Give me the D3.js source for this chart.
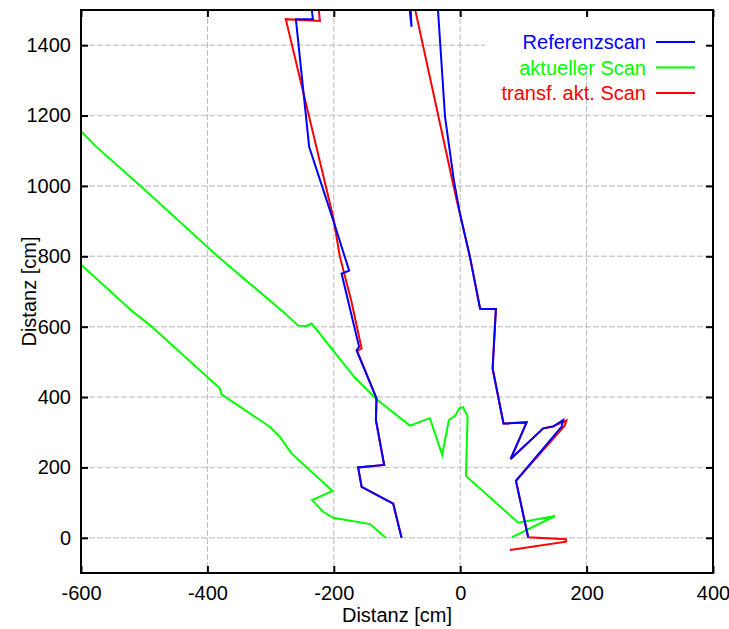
<!DOCTYPE html>
<html>
<head>
<meta charset="utf-8">
<script src="https://cdn.jsdelivr.net/npm/d3@7"></script>
<style>
  body { margin: 0; background: #fff; }
  svg { font-family: "Liberation Sans", Arial, sans-serif; }
</style>
</head>
<body>
<svg id="chart" width="729" height="629"></svg>
<script>
// Referenzscan (blue)
var refX = [107.6, 88.2, 160.5, 163, 147, 131.4, 79.8, 105.1, 68.5, 51.3, 56.5, 31.5, 15.3, -0.5, -10, -24, -35, -37,
  -83.5, -77, -80,
  -240, -234.5, -233, -260, -239, -201, -175.7, -187.7, -160, -164, -132.4, -133.4, -120.3, -161.5, -156, -106, -92.8];
var refY = [1, 162, 316, 335, 316, 311, 224, 328, 325, 481, 650, 651, 799, 922, 1016, 1196, 1496, 1560,
  1560, 1452, 1560,
  1560, 1496, 1474, 1474, 1111, 903, 759, 751, 543, 533, 396, 335, 207, 200, 145, 97, 0];

// aktueller Scan (green)
var curX = [81.4, 150, 91.8, 9, 11.7, 4.5, -1.6, -7.5, -18, -28.5, -48, -79.6, -132.4, -167.5, -235, -244, -256.4,
  -277.5, -383, -504, -575.6, -598, -640,
  -640, -598, -517.6, -491, -380.4, -377.7, -301.3, -285.3, -267, -202, -234.3, -216.9, -201, -142.5, -118];
var curY = [1.4, 62, 43, 176, 345, 371, 368, 348, 334, 236, 340, 319, 394, 457, 609, 602, 603,
  638, 799, 997, 1111, 1152, 1210,
  845, 773, 642, 604.5, 424.7, 408, 315.6, 287, 240, 133, 107, 74, 57, 39, 0];

// transf. akt. Scan (red)
var trX = [78.7, 167.3, 167.3, 107.6, 88.2, 165, 168, 147, 131.4, 79.8, 105.1, 68.5, 51.3, 56.5, 31.5, 15.3, -0.5, -5.7, -70.6, -74,
  -224, -223.5, -222, -276, -201, -190.4, -172, -156, -163, -132.4, -133.4, -120.3, -161.5, -156, -106, -92.8];
var trY = [-34.7, -11, -4, 1.4, 162, 318, 333, 317, 311, 224, 328, 325, 481, 650, 651, 799, 922, 960, 1496, 1560,
  1560, 1496, 1469, 1474, 912, 799, 671, 538, 531, 396, 335, 207, 200, 145, 97, 0];

var seriesNames = ["Referenzscan", "aktueller Scan", "transf. akt. Scan"];
var seriesColors = ["#0000ff", "#00ff00", "#ff0000"];
var xTicks = [-600, -400, -200, 0, 200, 400];
var yTicks = [0, 200, 400, 600, 800, 1000, 1200, 1400];

var margin = {top: 10, right: 16, bottom: 56, left: 81},
  width = 729 - margin.left - margin.right,
  height = 629 - margin.top - margin.bottom;

var x = d3.scaleLinear().domain([-600, 400]).range([0, width]);
var y = d3.scaleLinear().domain([-100, 1500]).range([height, 0]);
var plain = d => String(d);

var svg = d3.select("#chart");
var g = svg.append("g").attr("transform", "translate(" + margin.left + "," + margin.top + ")");

g.append("clipPath").attr("id", "clip")
  .append("rect").attr("width", width).attr("height", height);

// grid
g.append("g").selectAll("line").data(yTicks).enter().append("line")
  .attr("x1", 0).attr("x2", width)
  .attr("y1", d => y(d)).attr("y2", d => y(d))
  .attr("stroke", "#cfcfcf").attr("stroke-width", 1.6).attr("stroke-dasharray", "6,2");
g.append("g").selectAll("line").data(xTicks.slice(1, -1)).enter().append("line")
  .attr("x1", d => x(d)).attr("x2", d => x(d))
  .attr("y1", 0).attr("y2", height)
  .attr("stroke", "#bbbbbb").attr("stroke-width", 1).attr("stroke-dasharray", "6,2");

// opaque key area
g.append("rect")
  .attr("x", 404).attr("y", 0).attr("width", width - 404).attr("height", 60)
  .attr("fill", "#fff");

var line = d3.line().x(d => x(d[0])).y(d => y(d[1]));
var series = [d3.zip(refX, refY), d3.zip(curX, curY), d3.zip(trX, trY)];
var drawOrder = [1, 2, 0];

g.append("g").attr("clip-path", "url(#clip)")
  .selectAll("path").data(drawOrder).enter().append("path")
  .attr("d", i => line(series[i]))
  .attr("fill", "none")
  .attr("stroke", i => seriesColors[i])
  .attr("stroke-width", 2)
  .attr("stroke-linejoin", "miter");

// axes with inward ticks on all sides
var tl = 7;
g.append("g").attr("transform", "translate(0," + height + ")")
  .call(d3.axisBottom(x).tickValues(xTicks).tickSize(-tl).tickPadding(tl + 6).tickFormat(plain))
  .call(a => a.select(".domain").remove());
g.append("g")
  .call(d3.axisTop(x).tickValues(xTicks).tickSize(-tl).tickFormat(""))
  .call(a => a.select(".domain").remove());
g.append("g")
  .call(d3.axisLeft(y).tickValues(yTicks).tickSize(-tl).tickPadding(tl + 3).tickFormat(plain))
  .call(a => a.select(".domain").remove());
g.append("g").attr("transform", "translate(" + width + ",0)")
  .call(d3.axisRight(y).tickValues(yTicks).tickSize(-tl).tickFormat(""))
  .call(a => a.select(".domain").remove());

g.selectAll(".tick line").attr("stroke", "#000").attr("stroke-width", 2);
g.selectAll(".tick text").attr("font-size", 20).attr("fill", "#000")
  .attr("font-family", "'Liberation Sans', Arial, sans-serif");

g.append("rect")
  .attr("width", width).attr("height", height)
  .attr("fill", "none").attr("stroke", "#000").attr("stroke-width", 2);

// axis titles
g.append("text")
  .attr("x", width / 2).attr("y", height + 49)
  .attr("text-anchor", "middle").attr("font-size", 20)
  .text("Distanz [cm]");
g.append("text")
  .attr("transform", "translate(" + (-45) + "," + (height / 2) + ") rotate(-90)")
  .attr("text-anchor", "middle").attr("font-size", 20)
  .text("Distanz [cm]");

// legend
var key = g.append("g").selectAll("g").data(seriesNames).enter().append("g")
  .attr("transform", (d, i) => "translate(0," + (32 + i * 25.5) + ")");
key.append("text")
  .attr("x", 565).attr("y", 7)
  .attr("text-anchor", "end").attr("font-size", 20)
  .attr("fill", (d, i) => seriesColors[i])
  .text(d => d);
key.append("line")
  .attr("x1", 575).attr("x2", 614)
  .attr("stroke", (d, i) => seriesColors[i]).attr("stroke-width", 2);
</script>
</body>
</html>
